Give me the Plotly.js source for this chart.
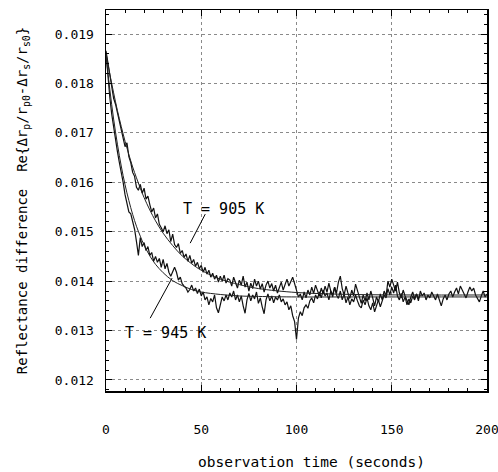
<!DOCTYPE html>
<html><head><meta charset="utf-8">
<script src="https://cdn.plot.ly/plotly-3.0.1.min.js"></script>
<style>html,body{margin:0;padding:0;background:#fff}#chart{width:498px;height:472px}</style>
</head><body><div id="chart"></div>
<script>
// Sampling interval of the measured traces (seconds)
const sampleStep = 1;

// T = 905 K measured trace, t = 0..200 s
const data905 = [
0.01866,0.01840,0.01818,0.01790,0.01770,0.01758,0.01740,0.01722,0.01706,0.01690,
0.01672,0.01680,0.01652,0.01640,0.01620,0.01612,0.01590,0.01584,0.01596,0.01578,
0.01588,0.01566,0.01572,0.01555,0.01540,0.01548,0.01528,0.01536,0.01515,0.01508,
0.01500,0.01512,0.01496,0.01504,0.01480,0.01495,0.01474,0.01468,0.01476,0.01456,
0.01462,0.01448,0.01455,0.01440,0.01452,0.01436,0.01444,0.01430,0.01438,0.01425,
0.01432,0.01418,0.01428,0.01414,0.01422,0.01408,0.01416,0.01404,0.01412,0.01398,
0.01410,0.01400,0.01412,0.01396,0.01405,0.01402,0.01390,0.01408,0.01396,0.01386,
0.01402,0.01392,0.01410,0.01388,0.01398,0.01380,0.01396,0.01385,0.01404,0.01390,
0.01400,0.01384,0.01395,0.01378,0.01392,0.01400,0.01386,0.01395,0.01380,0.01392,
0.01376,0.01388,0.01398,0.01382,0.01394,0.01404,0.01390,0.01398,0.01408,0.01395,
0.01380,0.01368,0.01374,0.01362,0.01378,0.01366,0.01382,0.01372,0.01388,0.01375,
0.01392,0.01380,0.01370,0.01386,0.01374,0.01390,0.01378,0.01396,0.01380,0.01372,
0.01388,0.01376,0.01398,0.01410,0.01385,0.01372,0.01390,0.01376,0.01365,0.01382,
0.01370,0.01394,0.01378,0.01368,0.01355,0.01372,0.01360,0.01376,0.01362,0.01380,
0.01366,0.01350,0.01368,0.01358,0.01374,0.01362,0.01380,0.01370,0.01400,0.01388,
0.01404,0.01392,0.01380,0.01398,0.01376,0.01366,0.01382,0.01370,0.01360,0.01352,
0.01368,0.01378,0.01365,0.01374,0.01360,0.01380,0.01370,0.01376,0.01362,0.01372,
0.01366,0.01378,0.01370,0.01362,0.01374,0.01360,0.01350,0.01364,0.01372,0.01362,
0.01374,0.01380,0.01368,0.01378,0.01386,0.01374,0.01390,0.01382,0.01372,0.01366,
0.01378,0.01388,0.01380,0.01386,0.01372,0.01365,0.01358,0.01370,0.01380,0.01368,
0.01374
];

// T = 945 K measured trace, t = 0..165 s
const data945 = [
0.01862,0.01810,0.01772,0.01738,0.01712,0.01680,0.01662,0.01640,0.01622,0.01600,
0.01575,0.01560,0.01540,0.01536,0.01522,0.01505,0.01480,0.01452,0.01488,0.01470,
0.01478,0.01462,0.01470,0.01452,0.01458,0.01440,0.01450,0.01438,0.01446,0.01428,
0.01444,0.01425,0.01436,0.01418,0.01410,0.01420,0.01428,0.01418,0.01402,0.01408,
0.01395,0.01390,0.01386,0.01378,0.01383,0.01392,0.01380,0.01386,0.01375,0.01384,
0.01370,0.01378,0.01362,0.01368,0.01352,0.01365,0.01358,0.01372,0.01346,0.01336,
0.01355,0.01368,0.01360,0.01372,0.01362,0.01376,0.01368,0.01380,0.01362,0.01372,
0.01358,0.01370,0.01350,0.01335,0.01362,0.01375,0.01360,0.01372,0.01364,0.01378,
0.01355,0.01366,0.01348,0.01334,0.01362,0.01374,0.01360,0.01370,0.01356,0.01368,
0.01362,0.01372,0.01358,0.01364,0.01352,0.01358,0.01342,0.01350,0.01330,0.01318,
0.01282,0.01325,0.01338,0.01330,0.01346,0.01352,0.01345,0.01360,0.01366,0.01356,
0.01372,0.01364,0.01378,0.01366,0.01382,0.01370,0.01376,0.01362,0.01380,0.01368,
0.01388,0.01372,0.01365,0.01380,0.01362,0.01374,0.01356,0.01368,0.01352,0.01364,
0.01358,0.01372,0.01360,0.01350,0.01346,0.01362,0.01352,0.01366,0.01350,0.01342,
0.01356,0.01338,0.01350,0.01362,0.01348,0.01360,0.01372,0.01366,0.01385,0.01372,
0.01388,0.01376,0.01392,0.01370,0.01362,0.01375,0.01358,0.01368,0.01352,0.01364,
0.01356,0.01370,0.01362,0.01374,0.01365,0.01372
];

// Smooth fitted curves
const fitTimes = [0,2,4,6,8,10,12,14,16,18,20,23,26,30,35,40,45,50,60,70,80,100,130,160,200];
const fit905 = [0.01862,0.01819,0.01781,0.01745,0.01713,0.01683,0.01656,0.01631,0.01609,0.01588,0.01569,0.01544,0.01522,0.01497,0.01472,0.01451,0.01435,0.01422,0.01404,0.01393,0.01385,0.01377,0.01373,0.01372,0.01372];
const fit945 = [0.01858,0.01788,0.01728,0.01677,0.01633,0.01595,0.01563,0.01535,0.01511,0.01491,0.01473,0.01451,0.01434,0.01417,0.01401,0.01391,0.01383,0.01378,0.01373,0.01370,0.01369,0.01368,0.01368,0.01368,0.01368];

// Axis ticks
const xTicks = [0,50,100,150,200];
const yTicks = [0.012,0.013,0.014,0.015,0.016,0.017,0.018,0.019];
const yTickText = ['0.012','0.013','0.014','0.015','0.016','0.017','0.018','0.019'];

// Texts
const labels = ['T = 905 K','T = 945 K'];
const xTitle = 'observation time (seconds)';
const yTitle = 'Reflectance difference  Re{Δr<sub>p</sub>/r<sub>p0</sub>-Δr<sub>s</sub>/r<sub>s0</sub>}';

const times905 = data905.map((_, i) => i * sampleStep);
const times945 = data945.map((_, i) => i * sampleStep);

const FONT = 'DejaVu Sans Mono, monospace';
const lineStyle = {color:'#111', width:1.2};

const traces = [
  {x: times905, y: data905, type:'scatter', mode:'lines', line: lineStyle, hoverinfo:'skip'},
  {x: times945, y: data945, type:'scatter', mode:'lines', line: lineStyle, hoverinfo:'skip'},
  {x: fitTimes, y: fit905, type:'scatter', mode:'lines', line:{color:'#222', width:1, shape:'spline'}, hoverinfo:'skip'},
  {x: fitTimes, y: fit945, type:'scatter', mode:'lines', line:{color:'#222', width:1, shape:'spline'}, hoverinfo:'skip'}
];

const axisCommon = {
  showline:true, linewidth:1.5, linecolor:'#000', mirror:'allticks',
  ticks:'inside', ticklen:6, tickwidth:1, tickcolor:'#000',
  showgrid:true, gridcolor:'#8a8a8a', griddash:'dot', gridwidth:1,
  zeroline:false, automargin:false, ticklabeloverflow:'allow',
  tickfont:{family:FONT, size:13, color:'#000'}
};

const layout = {
  width:498, height:472,
  margin:{l:106, r:11, t:10, b:81},
  paper_bgcolor:'#fff', plot_bgcolor:'#fff',
  showlegend:false,
  font:{family:FONT, color:'#000'},
  xaxis: Object.assign({}, axisCommon, {
    range:[0,200], tickmode:'array', tickvals:xTicks, ticktext:xTicks.map(String),
    minor:{dtick:10, ticks:'inside', ticklen:3, tickcolor:'#000', showgrid:false},
    ticklabelstandoff:26
  }),
  yaxis: Object.assign({}, axisCommon, {
    range:[0.011777, 0.019486], tickmode:'array', tickvals:yTicks, ticktext:yTickText,
    minor:{dtick:0.0002, tick0:0.012, ticks:'inside', ticklen:3, tickcolor:'#000', showgrid:false},
    ticklabelstandoff:8,
    title:{text:yTitle, font:{family:FONT, size:14, color:'#000'}, standoff:24}
  }),
  annotations:[
    {x:61.6, y:0.015457, xref:'x', yref:'y', text:labels[0], showarrow:false, font:{family:FONT, size:15, color:'#000'}},
    {x:31, y:0.012947, xref:'x', yref:'y', text:labels[1], showarrow:false, font:{family:FONT, size:15, color:'#000'}},
    {x:0.54, y:10, xref:'paper', yref:'paper', yanchor:'middle', yshift:0, text:xTitle, showarrow:false, font:{family:FONT, size:14.5, color:'#000'}}
  ],
  shapes:[
    {type:'line', xref:'x', yref:'y', x0:44.2, y0:0.014769, x1:52.1, y1:0.015356, line:{color:'#000', width:1}},
    {type:'line', xref:'x', yref:'y', x0:23.2, y0:0.013251, x1:34.7, y1:0.014061, line:{color:'#000', width:1}}
  ]
};
// place x title at 462px from top: paper y = (plotBottom - 462)/plotHeight
layout.annotations[2].y = (391 - 462) / 381;

Plotly.newPlot('chart', traces, layout, {staticPlot:true, displayModeBar:false});
</script>
</body></html>
